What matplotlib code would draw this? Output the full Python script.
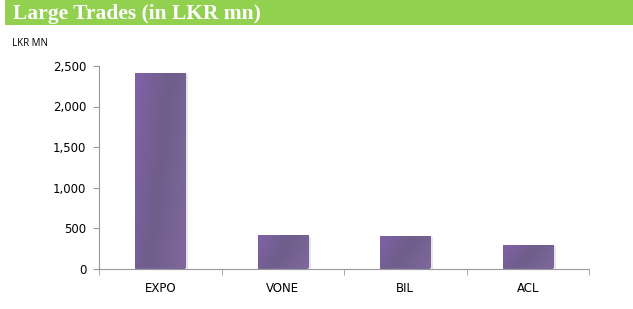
import matplotlib
matplotlib.use("Agg")
import matplotlib.pyplot as plt
import numpy as np
from matplotlib.ticker import FuncFormatter

# data
companies = ["EXPO", "VONE", "BIL", "ACL"]
values = [2413, 410, 398, 288]

plt.rcParams['font.family'] = ['DejaVu Sans']

fig = plt.figure(figsize=(6.33, 3.09), dpi=100)

# green title band
band = fig.add_axes([5 / 633, 1 - 25 / 309, 628 / 633, 25 / 309])
band.set_facecolor('#92D050')
band.set_xticks([])
band.set_yticks([])
for s in band.spines.values():
    s.set_visible(False)
band.text(8 / 628, 0.25, "Large Trades (in LKR mn)", color='white', fontsize=15.5,
          family='Liberation Serif', weight='bold', va='baseline', ha='left',
          transform=band.transAxes)

fig.text(12 / 633, 1 - 43 / 309, "LKR MN", fontsize=7, family='Open Sans',
         va='center', ha='left')

ax = fig.add_axes([99 / 633, 1 - 268.5 / 309, 490 / 633, 202.5 / 309])
x = np.arange(len(companies))
w = 0.41

# soft shadow behind the bars
ax.bar(x + 0.025, np.array(values) - 15, width=w, color='#e6e6e6', zorder=1)
bars = ax.bar(x, values, width=w, color='#7A6399', zorder=2)

# gentle diagonal gradient on each bar
grad = np.linspace(0, 1, 64)
gx, gy = np.meshgrid(grad, grad)
g = (gx * 0.7 + (1 - gy) * 0.3)
cmap = matplotlib.colors.LinearSegmentedColormap.from_list('p', ['#8062A6', '#6E5E8A', '#80689E'])
for b in bars:
    x0, y0 = b.get_x(), b.get_y()
    im = ax.imshow(g, extent=[x0, x0 + b.get_width(), y0, y0 + b.get_height()],
                   aspect='auto', cmap=cmap, zorder=3, origin='lower')
    im.set_clip_path(b)

ax.set_xlim(-0.5, len(companies) - 0.5)
ax.set_ylim(0, 2500)
ax.set_yticks(np.arange(0, 2501, 500))
ax.yaxis.set_major_formatter(FuncFormatter(lambda v, p: f"{int(v):,}"))
ax.set_xticks(x)
ax.set_xticklabels(companies)
ax.set_xticks(np.arange(-0.5, len(companies)), minor=True)
ax.tick_params(axis='x', which='major', length=0, pad=10, labelsize=8.5)
ax.tick_params(axis='x', which='minor', length=4, color='#999999', direction='out')
ax.tick_params(axis='y', length=4, color='#999999', labelsize=8.5, pad=5)

for side in ['top', 'right']:
    ax.spines[side].set_visible(False)
ax.spines['left'].set_color('#999999')
ax.spines['bottom'].set_color('#999999')

fig.savefig("out.png", dpi=100)
